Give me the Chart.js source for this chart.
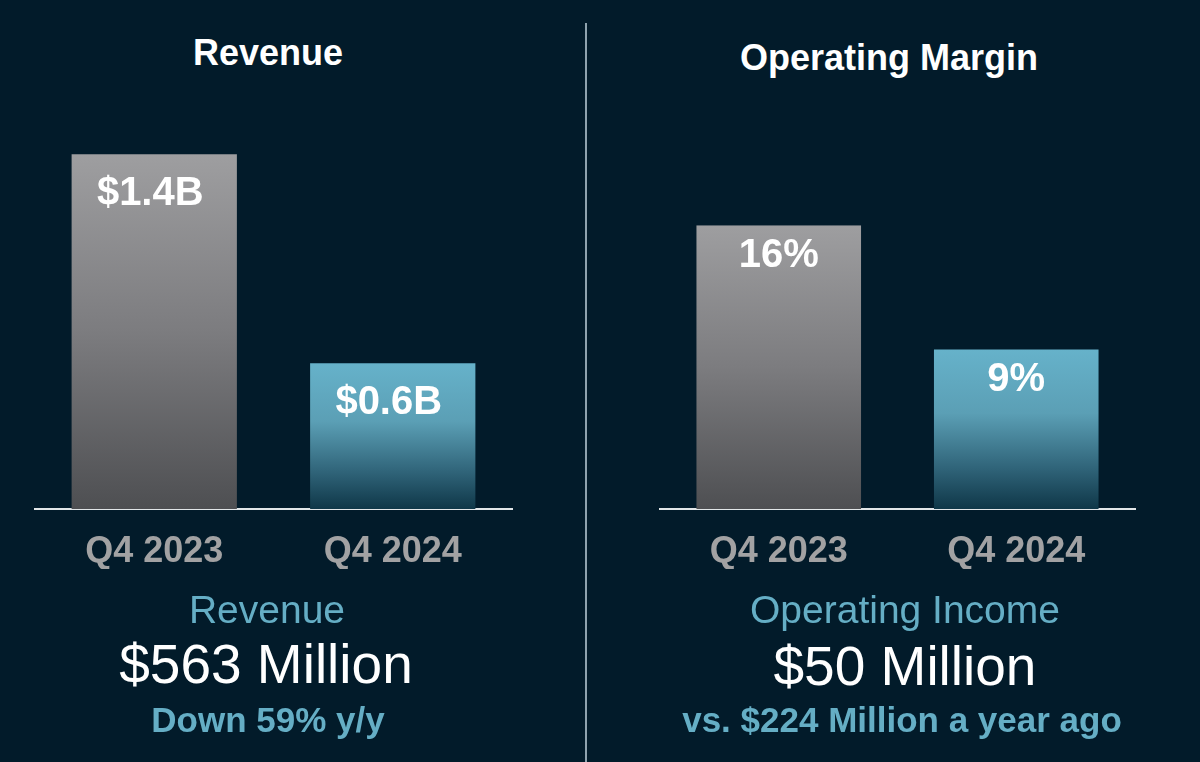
<!DOCTYPE html>
<html>
<head>
<meta charset="utf-8">
<script src="https://cdn.jsdelivr.net/npm/chart.js@4.4.1/dist/chart.umd.min.js"></script>
<style>
  html, body { margin: 0; padding: 0; }
  body {
    width: 1200px; height: 762px; overflow: hidden; position: relative;
    background: #021b2a; font-family: "Liberation Sans", Arial, sans-serif;
  }
  .txt { position: absolute; width: 600px; text-align: center; white-space: nowrap; }
  .title { font-weight: bold; font-size: 36px; line-height: 36px; color: #ffffff; }
  .sub { font-size: 39px; line-height: 39px; color: #65aec5; }
  .big { font-size: 55px; line-height: 55px; color: #ffffff; }
  .note { font-weight: bold; font-size: 35px; line-height: 35px; color: #65aec5; }
  #divider { position: absolute; left: 585px; top: 23px; width: 2px; height: 739px; background: #8fa3ae; }
  canvas { position: absolute; top: 0; }
</style>
</head>
<body>
<div class="txt title" style="left:-32px; top:35px;">Revenue</div>
<div class="txt title" style="left:589px; top:40px;">Operating Margin</div>

<div style="position:absolute; left:0; top:0; width:586px; height:600px;"><canvas id="revenueChart"></canvas></div>
<div style="position:absolute; left:586px; top:0; width:614px; height:600px;"><canvas id="marginChart"></canvas></div>

<div id="divider"></div>

<div class="txt sub" style="left:-33px; top:590px;">Revenue</div>
<div class="txt big" style="left:-34px; top:637px;">$563 Million</div>
<div class="txt note" style="left:-32px; top:702px;">Down 59% y/y</div>

<div class="txt sub" style="left:605px; top:590px;">Operating Income</div>
<div class="txt big" style="left:605px; top:639px;">$50 Million</div>
<div class="txt note" style="left:602px; top:702px;">vs. $224 Million a year ago</div>

<script>
// data
const categories = ['Q4 2023', 'Q4 2024'];
const revenueValues = [1.37, 0.563];   // $B
const revenueLabels = ['$1.4B', '$0.6B'];
const marginValues = [16, 9];          // %
const marginLabels = ['16%', '9%'];

// gradient stops for the two bars
const grayStops = [[0, '#9e9ea0'], [0.5, '#7c7c7f'], [1, '#4e4f52']];
const blueStops = [[0, '#66b2ca'], [0.4, '#5b9fb5'], [0.75, '#2f6378'], [1, '#0f3748']];

function barFill(c) {
    const stops = c.dataIndex === 0 ? grayStops : blueStops;
    const chart = c.chart;
    const area = chart.chartArea;
    if (!area || c.type !== 'data') return stops[0][1];
    const top = chart.scales.y.getPixelForValue(c.raw);
    const g = chart.ctx.createLinearGradient(0, top, 0, area.bottom);
    for (const s of stops) g.addColorStop(s[0], s[1]);
    return g;
}

// labels written inside the top of each bar
const barLabels = {
    id: 'barLabels',
    afterDatasetsDraw(chart, args, opts) {
        const ctx = chart.ctx;
        const meta = chart.getDatasetMeta(0);
        ctx.save();
        ctx.font = 'bold 40px "Liberation Sans", Arial, sans-serif';
        ctx.fillStyle = '#ffffff';
        ctx.textAlign = 'center';
        ctx.textBaseline = 'middle';
        meta.data.forEach((bar, i) => {
            ctx.fillText(opts.labels[i], bar.x + opts.dx, bar.y + opts.offset);
        });
        ctx.restore();
    }
};

function makeChart(id, values, labels, yMax, padding, labelOffset, labelDx) {
    return new Chart(document.getElementById(id), {
        type: 'bar',
        data: {
            labels: categories,
            datasets: [{
                data: values,
                backgroundColor: barFill,
                borderWidth: 0,
                barPercentage: 0.693,
                categoryPercentage: 1
            }]
        },
        options: {
            responsive: true,
            maintainAspectRatio: false,
            animation: false,
            layout: { padding: padding },
            plugins: {
                legend: { display: false },
                tooltip: { enabled: false },
                barLabels: { labels: labels, offset: labelOffset, dx: labelDx }
            },
            scales: {
                x: {
                    z: 1,
                    grid: { display: false },
                    border: { display: true, color: '#e2e6e8', width: 2 },
                    ticks: {
                        color: '#a2a2a3',
                        padding: 13,
                        font: { family: '"Liberation Sans", Arial, sans-serif', size: 36, weight: 'bold' }
                    },
                    afterFit: s => { s.height = 60; }
                },
                y: { display: false, min: 0, max: yMax }
            }
        },
        plugins: [barLabels]
    });
}

makeChart('revenueChart', revenueValues, revenueLabels, 1.4,
    { top: 146.5, left: 35, right: 74, bottom: 31 }, 39.5, -4);
makeChart('marginChart', marginValues, marginLabels, 16,
    { top: 225.3, left: 74, right: 65, bottom: 31 }, 31, 0);
</script>
</body>
</html>
